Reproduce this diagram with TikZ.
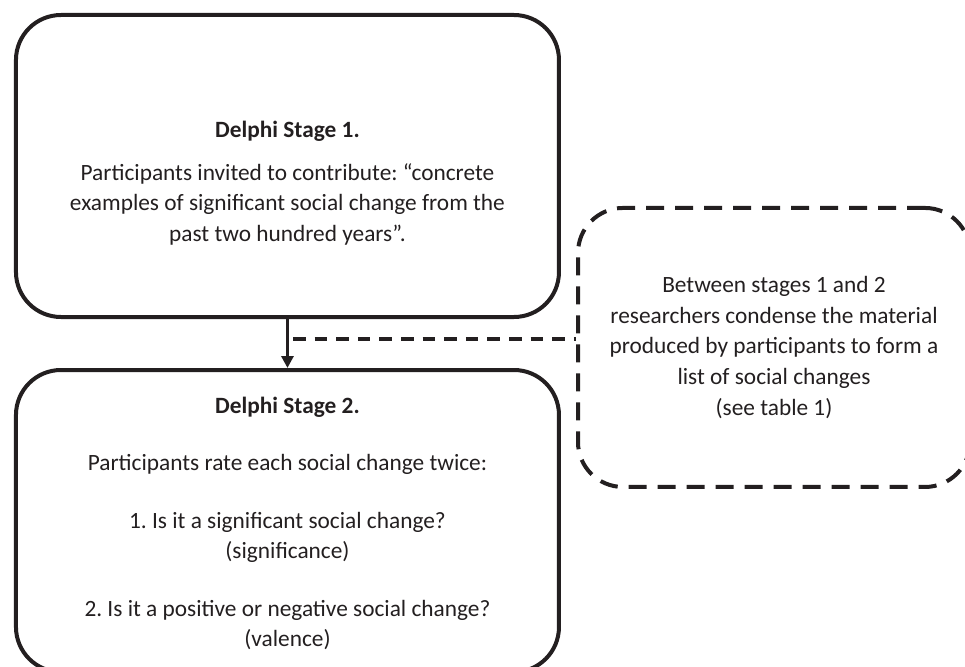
\documentclass[tikz,border=0pt]{standalone}
\usepackage{fontspec}
\setmainfont{Carlito}
\usetikzlibrary{arrows.meta}

\definecolor{ink}{RGB}{35,31,32}

\tikzset{
	stagebox/.style={draw=ink, line width=3pt, rounded corners=33.75pt, minimum width=407.25pt, minimum height=226.5pt},
	notebox/.style={draw=ink, line width=3pt, dash pattern=on 13.5pt off 8.25pt, rounded corners=33.75pt, minimum width=294pt, minimum height=209.25pt},
	boxtext/.style={align=center, inner sep=0pt, text=ink},
	bodytext/.style={font=\fontsize{17.5pt}{23pt}\selectfont\frenchspacing},
}

\begin{document}
\begin{tikzpicture}[x=1pt, y=-1pt, bodytext]
			\useasboundingbox (0,0) rectangle (723.75,500.25);
			\node (stageone) [stagebox] at (215.6,124.5) {};
			\node (stagetwo) [stagebox] at (215.6,390.75) {};
			\node (notes) [notebox] at (580.5,260.6) {};
			% texts
			\node (stageonetext) [boxtext, yshift=-13pt] at (stageone) {
				\textbf{Delphi Stage 1.}\\[9pt]
				Participants invited to contribute: “concrete\\
				examples of significant social change from the\\
				past two hundred years”.
			};
			\node (stagetwotext) [boxtext, yshift=-2pt] at (stagetwo) {
				\textbf{Delphi Stage 2.}\\[20pt]
				Participants rate each social change twice:\\[20pt]
				1. Is it a significant social change?\\
				(significance)\\[20pt]
				2. Is it a positive or negative social change?\\
				(valence)
			};
			\node (notestext) [boxtext] at (notes) {
				Between stages 1 and 2\\
				researchers condense the material\\
				produced by participants to form a\\
				list of social changes\\
				(see table 1)
			};
			% connectors
			\draw [ink, -{Triangle[length=9pt,width=9pt]}, line width=2.5pt] (stageone.south) -- (stagetwo.north);
			\coordinate (split) at (219.75,254.25);
			\draw [ink, line width=2.5pt, dash pattern=on 9.4pt off 6.8pt] (split) -- (split -| notes.west);
		\end{tikzpicture}
\end{document}
